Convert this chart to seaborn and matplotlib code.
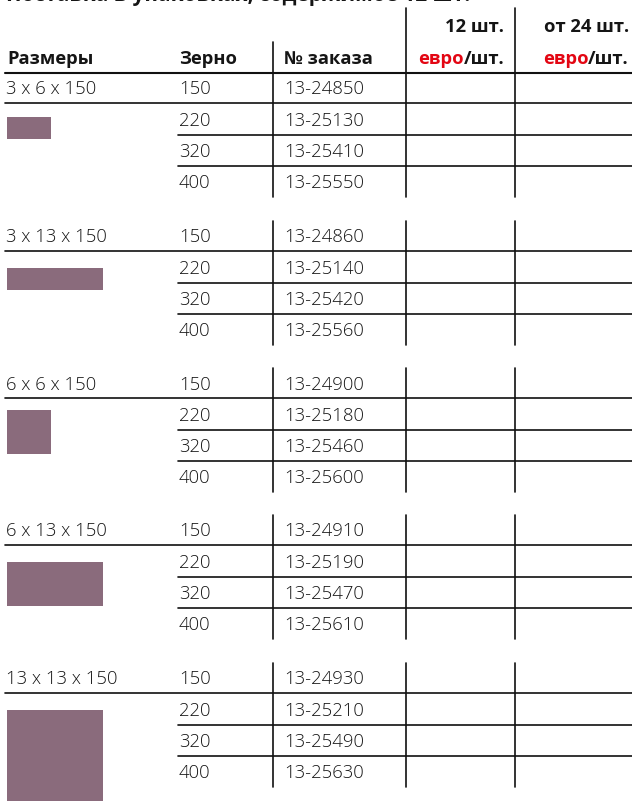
import matplotlib
matplotlib.use("Agg")
import matplotlib.pyplot as plt
import seaborn as sns
from matplotlib.patches import Rectangle

sns.set_theme(style="white")
plt.rcParams['font.family'] = ['Open Sans', 'DejaVu Sans']

# ---- data ----
title = "Поставка в упаковках, содержимое 12 шт."
col_headers = ["Размеры", "Зерно", "№ заказа"]
price_headers = ["12 шт.", "от 24 шт."]
unit_red = "евро"
unit_black = "/шт."
sizes = ["3 x 6 x 150", "3 x 13 x 150", "6 x 6 x 150", "6 x 13 x 150", "13 x 13 x 150"]
size_h = [3, 3, 6, 6, 13]     # mm (swatch height)
size_w = [6, 13, 6, 13, 13]   # mm (swatch width)
grains = ["150", "220", "320", "400"]
orders = [
    ["13-24850", "13-25130", "13-25410", "13-25550"],
    ["13-24860", "13-25140", "13-25420", "13-25560"],
    ["13-24900", "13-25180", "13-25460", "13-25600"],
    ["13-24910", "13-25190", "13-25470", "13-25610"],
    ["13-24930", "13-25210", "13-25490", "13-25630"],
]

# ---- style / layout ----
W, H = 632, 801
swatch_color = "#8a6b7c"
red = "#e30613"
txt = "#151515"
line_c = "#111111"
fs = 13.3
fs_b = 13.2

fig = plt.figure(figsize=(W / 100, H / 100), dpi=100)
ax = fig.add_axes([0, 0, 1, 1])
ax.set_xlim(0, W)
ax.set_ylim(H, 0)
ax.axis("off")

x_size, x_grain, x_order = 6, 179, 284
x_v1, x_v2, x_v3 = 273, 406, 515
x_r1, x_r2 = 504, 629

# title (cut off by top edge, as in the reference)
ax.text(6, 0.5, title, fontsize=15, fontweight="bold", color=txt, va="baseline", ha="left")

# header
ax.plot([x_v2, x_v2], [8, 73], color=line_c, lw=1.2)
ax.plot([x_v3, x_v3], [8, 73], color=line_c, lw=1.2)
ax.plot([x_v1, x_v1], [42, 73], color=line_c, lw=1.2)
fig.canvas.draw()
inv = ax.transData.inverted()
for xr, ph in zip([x_r1, x_r2], price_headers):
    ax.text(xr, 27, ph, fontsize=fs_b, fontweight="bold", color=txt, ha="right", va="center")
    t = ax.text(xr, 59, unit_black, fontsize=fs_b, fontweight="bold", color=txt, ha="right", va="center")
    bb = t.get_window_extent(renderer=fig.canvas.get_renderer())
    xl = inv.transform((bb.x0, bb.y0))[0]
    ax.text(xl, 59, unit_red, fontsize=fs_b, fontweight="bold", color=red, ha="right", va="center")
for xh, ch in zip([7, x_grain, x_order], col_headers):
    ax.text(xh, 59, ch, fontsize=fs_b, fontweight="bold", color=txt, ha="left", va="center")
ax.plot([5, W], [73, 73], color=line_c, lw=1.5)

# groups
group_top = [73, 221, 368, 515, 663]
swatch_off = [14, 17, 12, 17, 17]
row_h = 31.3
scale = 7.35
for g, (sz, hh, ww) in enumerate(zip(sizes, size_h, size_w)):
    top = group_top[g]
    y_rows = [top + 16.5 + i * row_h for i in range(4)]
    y_line0 = top + 30
    for xv in (x_v1, x_v2, x_v3):
        ax.plot([xv, xv], [top, top + 124], color=line_c, lw=1.2)
    ax.plot([5, W], [y_line0, y_line0], color=line_c, lw=1.2)
    for i in (1, 2):
        yl = y_line0 + i * row_h + 0.5
        ax.plot([x_grain - 1, W], [yl, yl], color=line_c, lw=1.2)
    ax.text(x_size, y_rows[0], sz, fontsize=fs, fontweight="light", color=txt, ha="left", va="center")
    for i, (gr, od) in enumerate(zip(grains, orders[g])):
        ax.text(x_grain, y_rows[i], gr, fontsize=fs, fontweight="light", color=txt, ha="left", va="center")
        ax.text(x_order, y_rows[i], od, fontsize=fs, fontweight="light", color=txt, ha="left", va="center")
    ax.add_patch(Rectangle((7, y_line0 + swatch_off[g]), ww * scale, hh * scale,
                           facecolor=swatch_color, edgecolor="none"))

fig.savefig("out.png", dpi=100)
